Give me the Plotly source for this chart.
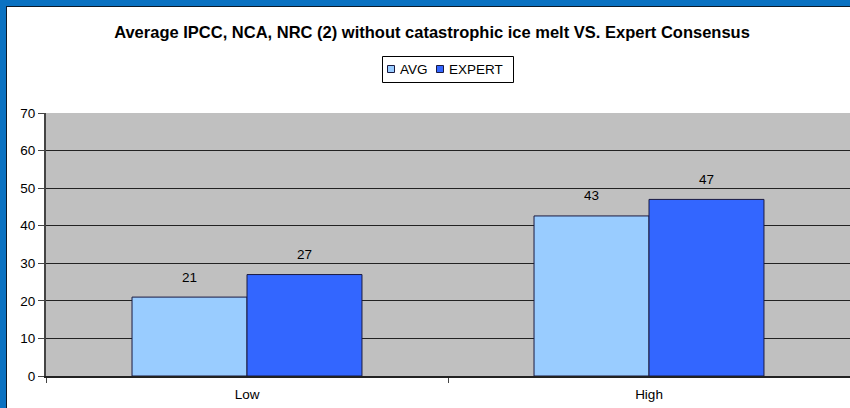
import plotly.graph_objects as go

categories = ["Low", "High"]
avg_values = [21, 42.6]
expert_values = [27, 47]
series_names = ["AVG", "EXPERT"]
series_colors = ["#99CCFF", "#3366FF"]
y_ticks = [0, 10, 20, 30, 40, 50, 60, 70]
title_text = "Average IPCC, NCA, NRC (2) without catastrophic ice melt VS. Expert Consensus"

W, H = 850, 408
ML, MR, MT, MB = 46, 0, 113, 32
PW = W - ML - MR
PH = H - MT - MB

font_family = "Liberation Sans, Arial, sans-serif"
FS = 13.5


def px_x(px):
    return (px - ML) / PW


def px_y(py):
    return (H - MB - py) / PH


fig = go.Figure()
for name, vals, col in zip(series_names, [avg_values, expert_values], series_colors):
    fig.add_trace(go.Bar(
        name=name, x=categories, y=vals, showlegend=False,
        marker=dict(color=col, line=dict(color="#1a1a40", width=1)),
    ))

# value labels above bars
bar_px = PW / 2 * (1 - 0.428) / 2
for i, vals in enumerate([avg_values, expert_values]):
    shift = (-0.5 if i == 0 else 0.5) * bar_px
    for c, v in zip(categories, vals):
        fig.add_annotation(x=c, y=v, text=f"{v:.0f}", showarrow=False,
                           xshift=shift, yshift=20,
                           font=dict(family=font_family, size=FS, color="black"))

# blue frame on left and top
frame = "#0A72C2"
fig.add_shape(type="rect", xref="paper", yref="paper",
              x0=px_x(-5), x1=px_x(6), y0=px_y(H + 5), y1=px_y(-5),
              fillcolor=frame, line=dict(width=0), layer="above")
fig.add_shape(type="rect", xref="paper", yref="paper",
              x0=px_x(-5), x1=px_x(W + 5), y0=px_y(6), y1=px_y(-5),
              fillcolor=frame, line=dict(width=0), layer="above")
fig.add_shape(type="line", xref="paper", yref="paper",
              x0=px_x(6.5), x1=px_x(6.5), y0=px_y(6), y1=px_y(H + 5),
              line=dict(color="#0b1a2a", width=1), layer="above")
fig.add_shape(type="line", xref="paper", yref="paper",
              x0=px_x(6), x1=px_x(W + 5), y0=px_y(6.5), y1=px_y(6.5),
              line=dict(color="#0b1a2a", width=1), layer="above")

# legend box drawn as shapes/text
fig.add_shape(type="rect", xref="paper", yref="paper",
              x0=px_x(382.5), x1=px_x(513.5), y0=px_y(82.5), y1=px_y(56.5),
              fillcolor="white", line=dict(color="black", width=1), layer="above")
legend_sq_x = [387.5, 436.5]
legend_tx_x = [397.5, 446.5]
for name, col, sx, tx in zip(series_names, series_colors, legend_sq_x, legend_tx_x):
    fig.add_shape(type="rect", xref="paper", yref="paper",
                  x0=px_x(sx), x1=px_x(sx + 7), y0=px_y(72.5), y1=px_y(65.5),
                  fillcolor=col, line=dict(color="#1a1a40", width=1), layer="above")
    fig.add_annotation(xref="paper", yref="paper", x=px_x(tx), y=px_y(69.5),
                       xanchor="left", yanchor="middle", text=name, showarrow=False,
                       font=dict(family=font_family, size=FS, color="black"))

fig.update_layout(
    width=W, height=H,
    margin=dict(l=ML, r=MR, t=MT, b=MB, pad=0),
    paper_bgcolor="white",
    plot_bgcolor="#C0C0C0",
    barmode="group",
    bargap=0.428,
    bargroupgap=0,
    font=dict(family=font_family, size=FS, color="black"),
    title=dict(text="<b>" + title_text + "</b>", x=432 / W, xanchor="center",
               xref="container", y=1 - 32 / H, yanchor="middle", yref="container",
               font=dict(family=font_family, size=16.5, color="black")),
    showlegend=False,
)
fig.update_xaxes(
    showline=True, linecolor="#222", linewidth=2, ticks="outside", ticklen=5,
    tickcolor="#444", tickwidth=1, tickson="boundaries", ticklabelstandoff=5,
    tickfont=dict(size=FS), showgrid=False, fixedrange=True,
)
fig.update_yaxes(
    range=[0, 70], tickvals=y_ticks, showline=True, linecolor="#444", linewidth=2,
    ticks="outside", ticklen=6, tickcolor="#444", showgrid=True, gridcolor="#222",
    gridwidth=1, zeroline=False, tickfont=dict(size=FS), fixedrange=True,
)

fig.write_html("out.html", config={"displayModeBar": False},
               post_script="document.body.style.margin='0';document.body.style.overflow='hidden';")
